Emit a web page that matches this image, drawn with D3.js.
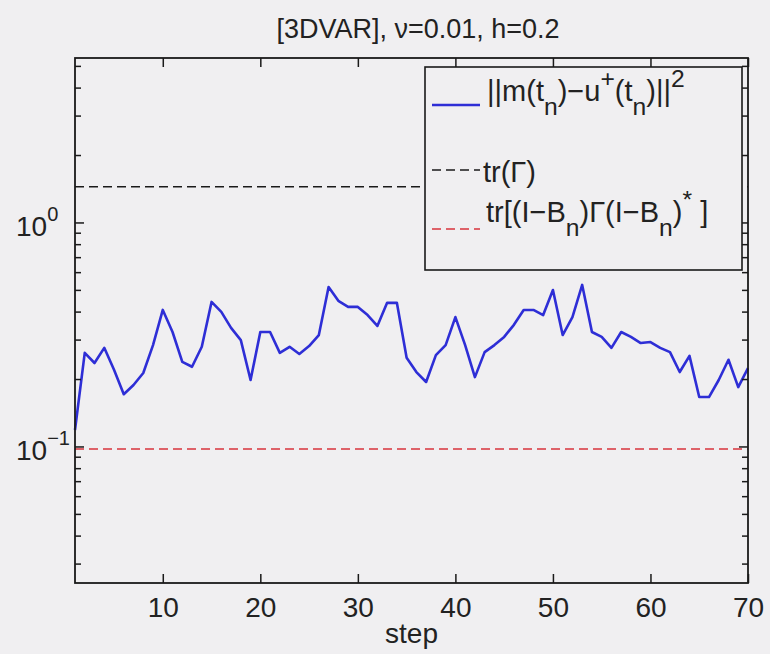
<!DOCTYPE html>
<html>
<head>
<meta charset="utf-8">
<script src="https://cdn.jsdelivr.net/npm/d3@7"></script>
<style>
  html, body { margin: 0; padding: 0; background: #f0eff1; }
  svg { display: block; }
  text { font-family: "Liberation Sans", Arial, Helvetica, sans-serif; fill: #222; }
</style>
</head>
<body>
<svg id="chart" width="770" height="654"></svg>
<script>
// ---------- data ----------
const steps = d3.range(1, 71);
const errorValues = [
  0.119, 0.263, 0.237, 0.277, 0.221, 0.172, 0.189, 0.214, 0.285, 0.409,
  0.326, 0.240, 0.228, 0.280, 0.444, 0.401, 0.340, 0.300, 0.199, 0.326,
  0.326, 0.263, 0.280, 0.260, 0.282, 0.316, 0.518, 0.449, 0.422, 0.422,
  0.388, 0.347, 0.440, 0.440, 0.250, 0.216, 0.195, 0.257, 0.285, 0.380,
  0.285, 0.205, 0.265, 0.285, 0.310, 0.351, 0.409, 0.409, 0.388, 0.502,
  0.316, 0.380, 0.529, 0.326, 0.310, 0.277, 0.326, 0.310, 0.291, 0.294,
  0.277, 0.265, 0.216, 0.255, 0.167, 0.167, 0.199, 0.245, 0.185, 0.225
];
const traceGamma = 1.45;
const traceFiltered = 0.098;
const xTicks = [10, 20, 30, 40, 50, 60, 70];
const yMajorTicks = [0.1, 1];
const yMajorExp = ["\u22121", "0"];
const yMinorTicks = [0.03, 0.04, 0.05, 0.06, 0.07, 0.08, 0.09,
                     0.2, 0.3, 0.4, 0.5, 0.6, 0.7, 0.8, 0.9, 2, 3, 4, 5];
const titleText = "[3DVAR], \u03bd=0.01, h=0.2";
const xLabel = "step";

// ---------- layout ----------
const L = 75, R = 748, T = 58, B = 583;
const svg = d3.select("#chart");
svg.append("rect").attr("width", 770).attr("height", 654).attr("fill", "#f0eff1");

const x = d3.scaleLinear().domain([1, 70]).range([L, R]);
const y = d3.scaleLog().domain([0.0247, 5.45]).range([B, T]);

const plot = svg.append("g");

// reference lines
plot.append("line")
  .attr("x1", L).attr("x2", R).attr("y1", y(traceGamma)).attr("y2", y(traceGamma))
  .attr("stroke", "#1a1a1a").attr("stroke-width", 1.6).attr("stroke-dasharray", "9,5");
plot.append("line")
  .attr("x1", L).attr("x2", R).attr("y1", y(traceFiltered)).attr("y2", y(traceFiltered))
  .attr("stroke", "#d8343c").attr("stroke-width", 1.6).attr("stroke-dasharray", "9,5");

// error line
const line = d3.line().x((d, i) => x(steps[i])).y(d => y(d));
plot.append("path").datum(errorValues)
  .attr("d", line).attr("fill", "none")
  .attr("stroke", "#2e2ed6").attr("stroke-width", 2.6).attr("stroke-linejoin", "round");

// ---------- axes (MATLAB style, inward ticks, box) ----------
const tickCol = "#1a1a1a";
const ax = svg.append("g");
const xAxisB = d3.axisBottom(x).tickValues(xTicks).tickSize(-9).tickPadding(14).tickFormat(d3.format("d"));
const gxb = ax.append("g").attr("transform", `translate(0,${B})`).call(xAxisB);
gxb.select(".domain").remove();
gxb.selectAll(".tick line").attr("stroke", tickCol).attr("stroke-width", 1.5);
gxb.selectAll(".tick text").attr("font-size", 28).attr("fill", "#222")
  .attr("font-family", "'Liberation Sans', Arial, sans-serif").attr("dy", "0.71em");
const xAxisT = d3.axisTop(x).tickValues(xTicks).tickSize(-9).tickFormat("");
const gxt = ax.append("g").attr("transform", `translate(0,${T})`).call(xAxisT);
gxt.select(".domain").remove();
gxt.selectAll(".tick line").attr("stroke", tickCol).attr("stroke-width", 1.5);

function yTicks(side) {
  const dir = side === "left" ? 1 : -1;
  const x0 = side === "left" ? L : R;
  const g = ax.append("g");
  g.selectAll("line.maj").data(yMajorTicks).join("line")
    .attr("x1", x0).attr("x2", x0 + dir * 9)
    .attr("y1", d => y(d)).attr("y2", d => y(d))
    .attr("stroke", tickCol).attr("stroke-width", 1.5);
  g.selectAll("line.min").data(yMinorTicks).join("line")
    .attr("x1", x0).attr("x2", x0 + dir * 6)
    .attr("y1", d => y(d)).attr("y2", d => y(d))
    .attr("stroke", tickCol).attr("stroke-width", 1.5);
}
yTicks("left");
yTicks("right");

// y major tick labels 10^k
yMajorTicks.forEach((v, i) => {
  const t = ax.append("text").attr("x", 16).attr("y", y(v) + 13)
    .attr("text-anchor", "start").attr("font-size", 28);
  t.append("tspan").text("10");
  t.append("tspan").attr("dy", -15).attr("font-size", 20).text(yMajorExp[i]);
});

ax.append("rect").attr("x", L).attr("y", T).attr("width", R - L).attr("height", B - T)
  .attr("fill", "none").attr("stroke", tickCol).attr("stroke-width", 1.8);

svg.append("text").attr("x", 418).attr("y", 38).attr("text-anchor", "middle")
  .attr("font-size", 27).text(titleText);
svg.append("text").attr("x", (L + R) / 2).attr("y", 643).attr("text-anchor", "middle")
  .attr("font-size", 28).text(xLabel);

// ---------- legend ----------
const lg = svg.append("g");
lg.append("rect").attr("x", 425).attr("y", 67).attr("width", 317).attr("height", 203)
  .attr("fill", "#f0eff1").attr("stroke", tickCol).attr("stroke-width", 1.6);

function rich(xp, yp, segs, size) {
  const t = lg.append("text").attr("x", xp).attr("y", yp).attr("font-size", size);
  let shift = 0;
  segs.forEach(([txt, kind]) => {
    const target = kind === "sub" ? 14 : kind === "sup" ? -14 : 0;
    const ts = t.append("tspan").attr("dy", target - shift).text(txt);
    if (kind) ts.attr("font-size", size * 0.85);
    shift = target;
  });
  return t;
}
const legendItems = [
  { color: "#2e2ed6", dash: null, ly: 105, tx: 487, ty: 101,
    segs: [["||m(t", null], ["n", "sub"], [")\u2212u", null], ["+", "sup"], ["(t", null], ["n", "sub"], [")||", null], ["2", "sup"]] },
  { color: "#1a1a1a", dash: "9,5", ly: 170, tx: 483, ty: 182,
    segs: [["tr(\u0393)", null]] },
  { color: "#d8343c", dash: "9,5", ly: 229, tx: 486, ty: 222,
    segs: [["tr[(I\u2212B", null], ["n", "sub"], [")\u0393(I\u2212B", null], ["n", "sub"], [")", null], ["*", "sup"], [" ]", null]] }
];
legendItems.forEach(it => {
  const l = lg.append("line").attr("x1", 432).attr("x2", 480).attr("y1", it.ly).attr("y2", it.ly)
    .attr("stroke", it.color).attr("stroke-width", it.dash ? 1.6 : 2.6);
  if (it.dash) l.attr("stroke-dasharray", it.dash);
  rich(it.tx, it.ty, it.segs, 29);
});
</script>
</body>
</html>
